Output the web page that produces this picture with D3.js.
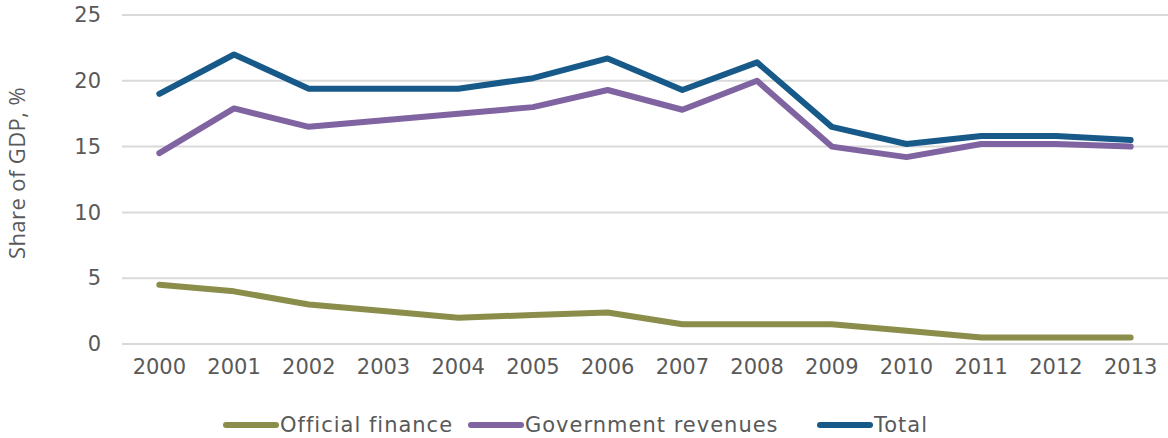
<!DOCTYPE html>
<html>
<head>
<meta charset="utf-8">
<script src="https://cdn.jsdelivr.net/npm/d3@7"></script>
<style>
  body { margin: 0; background: #fff; }
  text { font-family: "DejaVu Sans", sans-serif; fill: #595959; }
</style>
</head>
<body>
<svg id="chart"></svg>
<script>
// chart data
const years = ['2000','2001','2002','2003','2004','2005','2006','2007','2008','2009','2010','2011','2012','2013'];
const officialFinance = [4.5, 4.0, 3.0, 2.5, 2.0, 2.2, 2.4, 1.5, 1.5, 1.5, 1.0, 0.5, 0.5, 0.5];
const govRevenues = [14.5, 17.9, 16.5, 17.0, 17.5, 18.0, 19.3, 17.8, 20.0, 15.0, 14.2, 15.2, 15.2, 15.0];
const total = [19.0, 22.0, 19.4, 19.4, 19.4, 20.2, 21.7, 19.3, 21.4, 16.5, 15.2, 15.8, 15.8, 15.5];
const yTicks = [0, 5, 10, 15, 20, 25];

const seriesList = [
  {name: 'Official finance', values: officialFinance, color: '#8A8E4A'},
  {name: 'Government revenues', values: govRevenues, color: '#8064A2'},
  {name: 'Total', values: total, color: '#175A89'}
];

const width = 1168, height = 438;
const margin = {top: 15, right: 0, bottom: 94, left: 122};
const innerW = width - margin.left - margin.right;
const innerH = height - margin.top - margin.bottom;

const svg = d3.select('#chart').attr('width', width).attr('height', height);
const chart = svg.append('g').attr('transform', `translate(${margin.left},${margin.top})`);

const x = d3.scaleBand().domain(years).range([0, innerW]);
const y = d3.scaleLinear().domain([0, 25]).range([innerH, 0]);

// gridlines
chart.selectAll('.grid')
  .data(yTicks)
  .join('line')
  .attr('x1', 0).attr('x2', innerW)
  .attr('y1', d => y(d)).attr('y2', d => y(d))
  .attr('stroke', '#D9D9D9').attr('stroke-width', 2);

// y axis labels
const yAxis = d3.axisLeft(y).tickValues(yTicks).tickSize(0).tickPadding(21);
const yG = chart.append('g').call(yAxis);
yG.select('.domain').remove();
yG.selectAll('text').style('font-size', '21px').attr('fill', '#595959');

// x axis labels
const xAxis = d3.axisBottom(x).tickSize(0).tickPadding(15);
const xG = chart.append('g').attr('transform', `translate(0,${innerH})`).call(xAxis);
xG.select('.domain').remove();
xG.selectAll('text').style('font-size', '21px').attr('fill', '#595959');

// y title
svg.append('text')
  .attr('transform', `translate(25,173) rotate(-90)`)
  .attr('text-anchor', 'middle')
  .style('font-family', '"Open Sans", sans-serif')
  .style('font-size', '22px')
  .style('letter-spacing', '0.4px')
  .text('Share of GDP, %');

const line = d3.line()
  .x((d, i) => x(years[i]) + x.bandwidth() / 2)
  .y(d => y(d));

chart.selectAll('.series')
  .data(seriesList)
  .join('path')
  .attr('d', d => line(d.values))
  .attr('fill', 'none')
  .attr('stroke', d => d.color)
  .attr('stroke-width', 6)
  .attr('stroke-linecap', 'round')
  .attr('stroke-linejoin', 'round');

// legend
const legendX = [226, 471, 820];
const legend = svg.selectAll('.legend')
  .data(seriesList)
  .join('g')
  .attr('transform', (d, i) => `translate(${legendX[i]},425)`);
legend.append('line')
  .attr('x1', 0).attr('x2', 50)
  .attr('stroke', d => d.color)
  .attr('stroke-width', 6)
  .attr('stroke-linecap', 'round');
legend.append('text')
  .attr('x', 54).attr('dy', '0.35em')
  .style('font-size', '21px')
  .style('letter-spacing', '1px')
  .text(d => d.name);
</script>
</body>
</html>
